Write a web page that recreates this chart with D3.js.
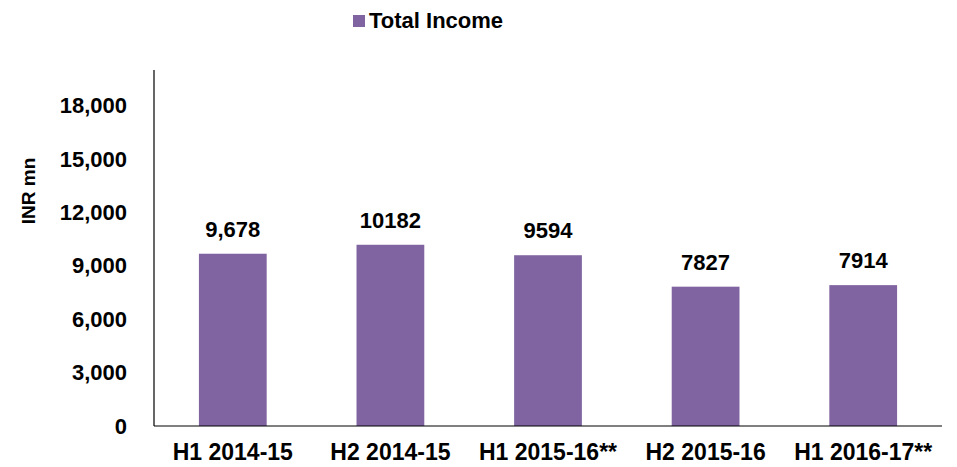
<!DOCTYPE html>
<html>
<head>
<meta charset="utf-8">
<script src="https://cdn.jsdelivr.net/npm/d3@7"></script>
<style>
    body { margin: 0; background: #ffffff; }
    text { font-family: "Liberation Sans", Arial, sans-serif; font-weight: bold; fill: #000; }
</style>
</head>
<body>
<svg id="chart" width="957" height="467"></svg>
<script>
// chart data
var categories = ["H1 2014-15", "H2 2014-15", "H1 2015-16**", "H2 2015-16", "H1 2016-17**"];
var totalIncome = [9678, 10182, 9594, 7827, 7914];
var valueLabels = ["9,678", "10182", "9594", "7827", "7914"];
var yTicks = [0, 3000, 6000, 9000, 12000, 15000, 18000];
var seriesName = "Total Income";

(function () {
    var barColor = "#8064A2";
    var svg = d3.select("#chart");

    // plot area edges
    var plotLeft = 154, plotRight = 942, plotTop = 70, plotBottom = 426;

    var x = d3.scaleBand()
        .domain(categories)
        .range([plotLeft, plotRight])
        .padding(0);

    var y = d3.scaleLinear()
        .domain([0, 20000])
        .range([plotBottom, plotTop]);

    var barWidth = x.bandwidth() * 0.43;

    // bars
    svg.append("g").selectAll("rect")
        .data(totalIncome)
        .enter().append("rect")
        .attr("x", function (d, i) { return x(categories[i]) + x.bandwidth() / 2 - barWidth / 2; })
        .attr("y", function (d) { return y(d); })
        .attr("width", barWidth)
        .attr("height", function (d) { return y(0) - y(d); })
        .attr("fill", barColor);

    // value labels above bars
    svg.append("g").selectAll("text")
        .data(totalIncome)
        .enter().append("text")
        .attr("x", function (d, i) { return x(categories[i]) + x.bandwidth() / 2; })
        .attr("y", function (d) { return y(d) - 17; })
        .attr("text-anchor", "middle")
        .style("font-size", "22px")
        .text(function (d, i) { return valueLabels[i]; });

    // y axis
    var yAxis = d3.axisLeft(y)
        .tickValues(yTicks)
        .tickSize(0)
        .tickPadding(27)
        .tickFormat(d3.format(","));

    var gy = svg.append("g")
        .attr("transform", "translate(" + plotLeft + ",0)")
        .call(yAxis);
    gy.select(".domain").remove();
    gy.selectAll("text")
        .style("font-size", "22px");
    gy.attr("font-family", null).attr("font-size", null);

    svg.append("line")
        .attr("x1", plotLeft).attr("x2", plotLeft)
        .attr("y1", plotTop).attr("y2", plotBottom)
        .attr("stroke", "#000").attr("stroke-width", 1.2);

    // x axis
    var xAxis = d3.axisBottom(x).tickSize(0).tickPadding(18);
    var gx = svg.append("g")
        .attr("transform", "translate(0," + plotBottom + ")")
        .call(xAxis);
    gx.select(".domain").remove();
    gx.selectAll("text")
        .style("font-size", "23px");
    gx.attr("font-family", null).attr("font-size", null);

    svg.append("line")
        .attr("x1", plotLeft).attr("x2", plotRight)
        .attr("y1", plotBottom).attr("y2", plotBottom)
        .attr("stroke", "#000").attr("stroke-width", 1.2);

    // y axis title
    svg.append("text")
        .attr("transform", "translate(35,191) rotate(-90)")
        .attr("text-anchor", "middle")
        .style("font-size", "19px")
        .text("INR mn");

    // legend
    var legend = svg.append("g").attr("transform", "translate(353,15)");
    legend.append("rect")
        .attr("width", 12).attr("height", 12)
        .attr("fill", barColor);
    legend.append("text")
        .attr("x", 16).attr("y", 13)
        .style("font-size", "22px")
        .text(seriesName);
})();
</script>
</body>
</html>
